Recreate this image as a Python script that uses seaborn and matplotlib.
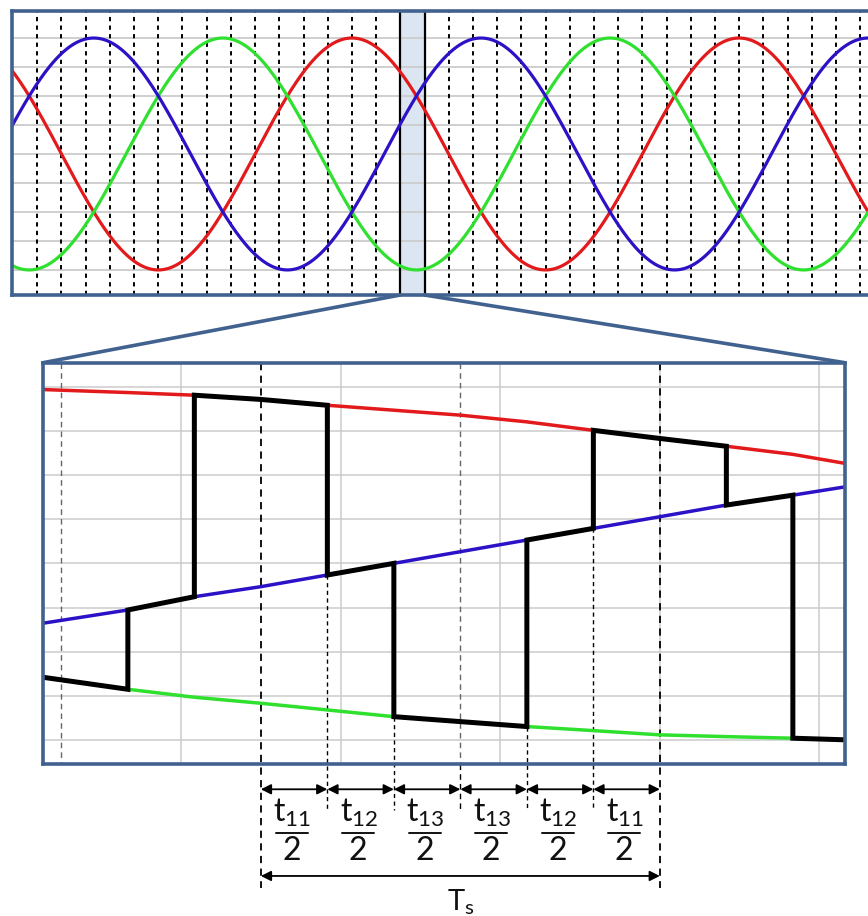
import numpy as np
import pandas as pd
import seaborn as sns
import matplotlib.pyplot as plt
from matplotlib.patches import ConnectionPatch

# top panel: three phase voltages over a bit more than two periods (degrees)
phases = ['a', 'b', 'c']
phase_colors = {'a': '#e31a1c', 'b': '#2fe02f', 'c': '#2b12c6'}
peak_deg = {'a': 315, 'b': 195, 'c': 75}
theta_lim = [-1, 794.8]
grid_step_deg = 22.5
band_deg = [360, 382.5]

# bottom panel: zoom on the band, time in units of Ts
t_pts = [-0.546, -1/3, -1/6, 0, 1/6, 1/3, 1/2, 2/3, 5/6, 1, 7/6, 4/3, 1.464]
red_zoom = [0.984, 0.967, 0.952, 0.928, 0.895, 0.867, 0.839, 0.801, 0.753, 0.707, 0.663, 0.617, 0.566]
green_zoom = [-0.645, -0.713, -0.758, -0.792, -0.830, -0.868, -0.896, -0.924, -0.947, -0.971, -0.981, -0.990, -0.999]
blue_zoom = [-0.339, -0.264, -0.189, -0.132, -0.066, 0.0, 0.066, 0.132, 0.198, 0.264, 0.330, 0.386, 0.433]
# phase followed by the output voltage between consecutive t_pts
picked = ['b', 'c', 'a', 'a', 'c', 'b', 'b', 'c', 'a', 'a', 'c', 'b']
seg_labels = ['11', '12', '13', '13', '12', '11']
seg_bounds = t_pts[3:10]

frame = '#41628f'
grid_c = '#cccccc'

sns.set_theme(style='white')
plt.rcParams['font.family'] = ['Lato', 'DejaVu Sans']
plt.rcParams['mathtext.fontset'] = 'custom'
plt.rcParams['mathtext.rm'] = 'Lato'
plt.rcParams['mathtext.it'] = 'Lato'

fig = plt.figure(figsize=(8.68, 9.16), dpi=100)
W, H = 868, 916
ax1 = fig.add_axes([12 / W, 1 - 295 / H, (W - 12) / W, (295 - 11) / H])
ax2 = fig.add_axes([43 / W, 1 - 764 / H, (845 - 43) / W, (764 - 362.7) / H])

# ---- top panel
theta = np.linspace(theta_lim[0], theta_lim[1], 1200)
top_df = pd.concat([pd.DataFrame({'theta': theta,
                                  'v': np.cos(np.radians(theta - peak_deg[p])),
                                  'phase': p}) for p in phases])
ax1.axvspan(band_deg[0], band_deg[1], color='#dce6f2', zorder=0)
for v in np.arange(-1, 1.01, 0.25):
    ax1.axhline(v, color=grid_c, lw=1.3, zorder=1)
for k in range(1, 36):
    x = k * grid_step_deg
    if x in band_deg:
        ax1.axvline(x, color='black', lw=1.6, zorder=2)
    else:
        ax1.axvline(x, color='black', lw=1.4, ls=(0, (2.2, 2.2)), zorder=2)
sns.lineplot(data=top_df, x='theta', y='v', hue='phase', palette=phase_colors,
             lw=2.3, legend=False, ax=ax1, zorder=3)
ax1.set_xlim(theta_lim)
ax1.set_ylim(-1.216, 1.233)

# ---- bottom panel
zoom = {'a': red_zoom, 'b': green_zoom, 'c': blue_zoom}
bot_df = pd.concat([pd.DataFrame({'t': t_pts, 'v': zoom[p], 'phase': p}) for p in phases])
ylim2 = (-1.136, 1.136)
for v in np.arange(-1, 1.01, 0.25):
    ax2.axhline(v, color=grid_c, lw=1.1, zorder=1)
for x in [-0.2, 0.2, 0.6, 1.0, 1.4]:
    ax2.axvline(x, color=grid_c, lw=1.1, zorder=1)

xtr = ax2.get_xaxis_transform()
for x in [-0.5, 0.5]:
    ax2.plot([x, x], [1, 0], transform=xtr, color='#666666', lw=1.0,
             ls=(0, (4, 3)), zorder=2)
for x in [0, 1]:
    ax2.plot([x, x], [1, -0.309], transform=xtr, color='black', lw=1.3,
             ls=(0, (4, 3)), zorder=2, clip_on=False)
ax2.plot([0.5, 0.5], [0, -0.115], transform=xtr, color='black', lw=1.0,
         ls=(0, (4, 3)), clip_on=False)

sns.lineplot(data=bot_df, x='t', y='v', hue='phase', palette=phase_colors,
             lw=2.5, legend=False, ax=ax2, zorder=3)

# output voltage: follows the picked phase, jumps at the switching instants
xs, ys = [], []
for i, p in enumerate(picked):
    xs += [t_pts[i], t_pts[i + 1]]
    ys += [zoom[p][i], zoom[p][i + 1]]
ax2.plot(xs, ys, color='black', lw=3.6, zorder=4, solid_joinstyle='miter')

# dashed drop lines from the lower end of each switching jump
for i in [4, 5, 7, 8]:
    lo = min(zoom[picked[i - 1]][i], zoom[picked[i]][i])
    fy = (lo - ylim2[0]) / (ylim2[1] - ylim2[0])
    ax2.plot([t_pts[i], t_pts[i]], [fy, -0.115], transform=xtr, color='black',
             lw=1.0, ls=(0, (3, 2.5)), zorder=2, clip_on=False)

ax2.set_xlim(t_pts[0], t_pts[-1])
ax2.set_ylim(ylim2)

for ax in (ax1, ax2):
    ax.set_xticks([])
    ax.set_yticks([])
    ax.set_xlabel('')
    ax.set_ylabel('')
    for s in ax.spines.values():
        s.set_color(frame)
        s.set_linewidth(2.6)
        s.set_zorder(5)
ax1.spines['right'].set_visible(False)

# lines joining the band to the zoomed panel
for xa, xb in [(band_deg[0], t_pts[0]), (band_deg[1], t_pts[-1])]:
    con = ConnectionPatch(xyA=(xa, ax1.get_ylim()[0]), coordsA=ax1.transData,
                          xyB=(xb, ylim2[1]), coordsB=ax2.transData,
                          color=frame, lw=2.6)
    fig.add_artist(con)

# interval annotations under the zoom
for i, lab in enumerate(seg_labels):
    a, b = seg_bounds[i], seg_bounds[i + 1]
    c = (a + b) / 2
    ax2.annotate('', xy=(b, -0.063), xytext=(a, -0.063), xycoords=xtr,
                 textcoords=xtr, annotation_clip=False,
                 arrowprops=dict(arrowstyle='<|-|>', color='black', lw=1.3,
                                 mutation_scale=15, shrinkA=0, shrinkB=0))
    ax2.text(c - 0.004, -0.122, r'$\mathrm{t}_{\mathrm{' + lab + '}}$', transform=xtr,
             ha='center', va='center', fontsize=23, color='#111111')
    ax2.plot([c - 0.046, c + 0.034], [-0.173, -0.173], transform=xtr,
             color='#111111', lw=1.4, clip_on=False)
    ax2.text(c - 0.006, -0.216, '2', transform=xtr, ha='center', va='center',
             fontsize=23, color='#111111')

ax2.annotate('', xy=(seg_bounds[-1], -0.279), xytext=(seg_bounds[0], -0.279),
             xycoords=xtr, textcoords=xtr, annotation_clip=False,
             arrowprops=dict(arrowstyle='<|-|>', color='black', lw=1.3,
                             mutation_scale=15, shrinkA=0, shrinkB=0))
ax2.text(0.5, -0.364, r'$\mathrm{T}_{\mathrm{s}}$', transform=xtr, ha='center',
         va='baseline', fontsize=21, color='#111111')

fig.savefig('out.png', dpi=100, facecolor='white')
